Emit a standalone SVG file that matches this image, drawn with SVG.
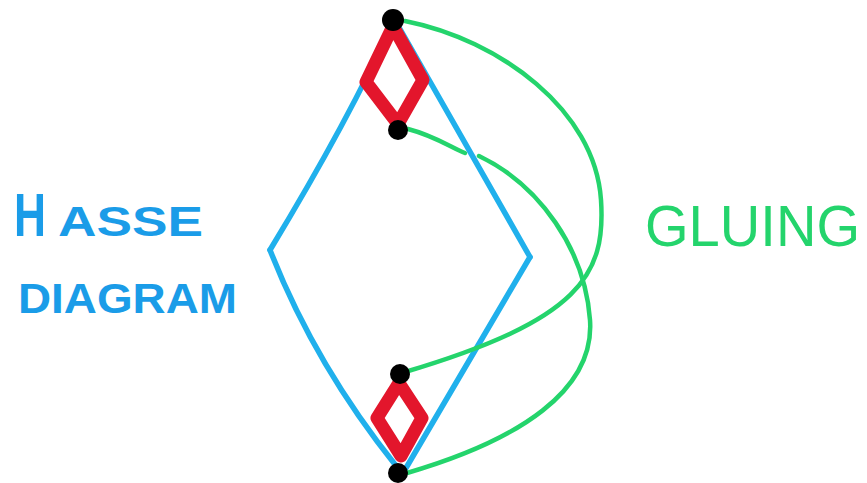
<svg xmlns="http://www.w3.org/2000/svg" width="867" height="483" viewBox="0 0 867 483">
  <style>
    .blue { fill: none; stroke: #20b0ec; stroke-width: 5.5; stroke-linecap: round; stroke-linejoin: round; }
    .red { fill: none; stroke: #e3162c; stroke-width: 13; stroke-linecap: round; stroke-linejoin: round; }
    .green { fill: none; stroke: #24d46c; stroke-width: 4.5; stroke-linecap: round; stroke-linejoin: round; }
    .node { fill: #000; }
    .lbl-blue { fill: #1a9ce8; font-family: "Liberation Sans", Arial, sans-serif; font-weight: bold; }
    .lbl-green { fill: #24d46c; font-family: "Liberation Sans", Arial, sans-serif; }
  </style>
  <rect width="867" height="483" fill="#ffffff"/>

  <g id="labels">
    <text class="lbl-blue" x="14" y="236" font-size="62" textLength="32" lengthAdjust="spacingAndGlyphs">H</text>
    <text class="lbl-blue" x="58" y="236" font-size="43" textLength="145" lengthAdjust="spacingAndGlyphs">ASSE</text>
    <text class="lbl-blue" x="18" y="313" font-size="42" textLength="219" lengthAdjust="spacingAndGlyphs">DIAGRAM</text>
    <text class="lbl-green" x="645" y="246" font-size="58" textLength="215" lengthAdjust="spacingAndGlyphs">GLUING</text>
  </g>

  <g id="connectors">
    <g id="hasse-big">
      <path class="blue" d="M393,22 Q350,118 270,250"/>
      <path class="blue" d="M270,250 Q315,365 397,467"/>
      <path class="blue" d="M396,22 L530,257"/>
      <path class="blue" d="M530,257 L406,468"/>
    </g>
    <g id="hasse-top">
      <path class="red" d="M393,26 L366,82 L398,124 L423,80 Z"/>
    </g>
    <g id="hasse-bottom">
      <path class="red" d="M399,383 L377,418 L401,456 L422,418 Z"/>
    </g>
    <g id="gluing">
      <path class="green" d="M405,21 C500,40 595,110 601,200 C606,275 580,320 405,372"/>
      <path class="green" d="M408,129 C435,136 452,148 465,153"/>
      <path class="green" d="M479,156 C540,185 585,250 590,320 C595,390 520,440 407,473"/>
    </g>
  </g>

  <g id="node-top"><circle class="node" cx="393" cy="20" r="11"/></g>
  <g id="node-top-bottom"><circle class="node" cx="398" cy="130" r="10"/></g>
  <g id="node-bottom-top"><circle class="node" cx="400" cy="374" r="10"/></g>
  <g id="node-bottom"><circle class="node" cx="398" cy="473" r="10"/></g>
</svg>
